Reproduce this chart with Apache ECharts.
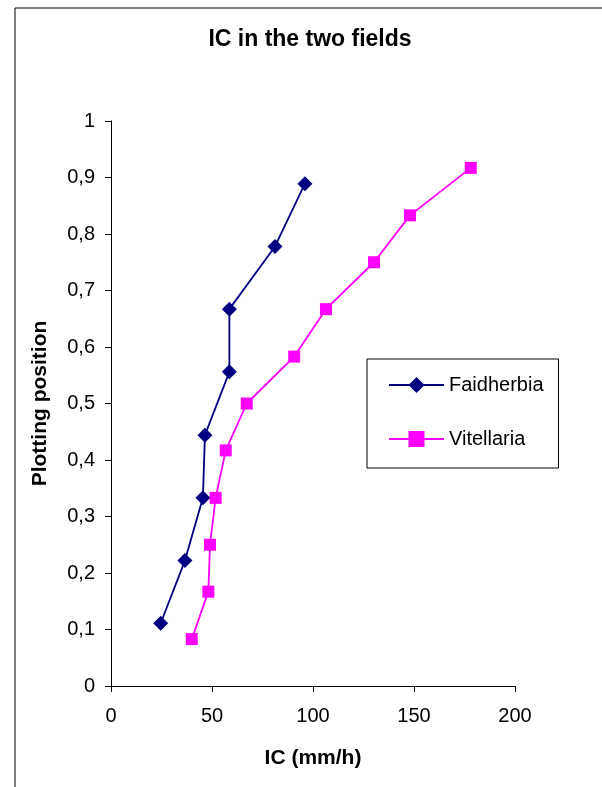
<!DOCTYPE html>
<html>
<head>
<meta charset="utf-8">
<script src="https://cdn.jsdelivr.net/npm/echarts@6/dist/echarts.min.js"></script>
<style>
html,body{margin:0;padding:0;background:#fff;}
#c{width:602px;height:787px;}
</style>
</head>
<body>
<div id="c"></div>
<script>
var titleText = 'IC in the two fields';
var xName = 'IC (mm/h)';
var yName = 'Plotting position';
var seriesNames = ['Faidherbia', 'Vitellaria'];
var faidherbiaIC = [24.6, 36.6, 45.5, 46.5, 58.6, 58.6, 81.2, 96.0];
var faidherbiaPP = [0.111, 0.222, 0.333, 0.444, 0.556, 0.667, 0.778, 0.889];
var vitellariaIC = [40.0, 48.2, 49.0, 51.8, 56.8, 67.2, 90.7, 106.4, 130.2, 148.0, 178.1];
var vitellariaPP = [0.083, 0.167, 0.250, 0.333, 0.417, 0.500, 0.583, 0.667, 0.750, 0.833, 0.917];
var xTicks = [0, 50, 100, 150, 200];
var yTicks = [0, 0.1, 0.2, 0.3, 0.4, 0.5, 0.6, 0.7, 0.8, 0.9, 1];

function pairs(xs, ys) { return xs.map(function (x, i) { return [x, ys[i]]; }); }

var FONT = '"Liberation Sans", Arial, sans-serif';
var chart = echarts.init(document.getElementById('c'), null, {renderer: 'canvas'});
chart.setOption({
  animation: false,
  backgroundColor: '#fff',
  graphic: [{
    type: 'rect', left: 12.5, top: 5.5, z: 0,
    shape: {x: 0, y: 0, width: 620, height: 800},
    style: {fill: 'none', stroke: '#000', lineWidth: 1}
  }],
  title: {
    text: titleText, left: 310, top: 28, textAlign: 'center', padding: 0,
    textStyle: {fontFamily: FONT, fontSize: 23, fontWeight: 'bold', color: '#000'}
  },
  grid: {left: 111, right: 87, top: 121, bottom: 101, containLabel: false},
  xAxis: {
    type: 'value', min: xTicks[0], max: xTicks[xTicks.length - 1], interval: 50,
    name: xName, nameLocation: 'middle', nameGap: 62,
    nameTextStyle: {fontFamily: FONT, fontSize: 21, fontWeight: 'bold', color: '#000'},
    axisLine: {show: true, onZero: false, lineStyle: {color: '#000', width: 1}},
    axisTick: {show: true, length: 6, lineStyle: {color: '#000'}},
    axisLabel: {fontFamily: FONT, fontSize: 20, color: '#000', margin: 20},
    splitLine: {show: false}
  },
  yAxis: {
    type: 'value', min: yTicks[0], max: yTicks[yTicks.length - 1], interval: 0.1,
    name: yName, nameLocation: 'middle', nameGap: 60,
    nameTextStyle: {fontFamily: FONT, fontSize: 21, fontWeight: 'bold', color: '#000'},
    axisLine: {show: true, onZero: false, lineStyle: {color: '#000', width: 1}},
    axisTick: {show: true, length: 6, lineStyle: {color: '#000'}},
    axisLabel: {
      fontFamily: FONT, fontSize: 20, color: '#000', margin: 16,
      formatter: function (v) { return String(Math.round(v * 10) / 10).replace('.', ','); }
    },
    splitLine: {show: false}
  },
  legend: {
    orient: 'vertical', left: 367, top: 359,
    padding: [16, 15, 19, 21], itemGap: 34,
    itemWidth: 55, itemHeight: 20,
    backgroundColor: '#fff', borderColor: '#000', borderWidth: 1, borderRadius: 0,
    textStyle: {fontFamily: FONT, fontSize: 20, color: '#000', lineHeight: 20},
    data: seriesNames
  },
  series: [{
    name: seriesNames[0], type: 'line', data: pairs(faidherbiaIC, faidherbiaPP),
    symbol: 'diamond', symbolSize: 15,
    lineStyle: {color: '#000080', width: 1.8},
    itemStyle: {color: '#000080'}
  }, {
    name: seriesNames[1], type: 'line', data: pairs(vitellariaIC, vitellariaPP),
    symbol: 'rect', symbolSize: 12,
    lineStyle: {color: '#FF00FF', width: 1.8},
    itemStyle: {color: '#FF00FF'}
  }]
});
</script>
</body>
</html>
